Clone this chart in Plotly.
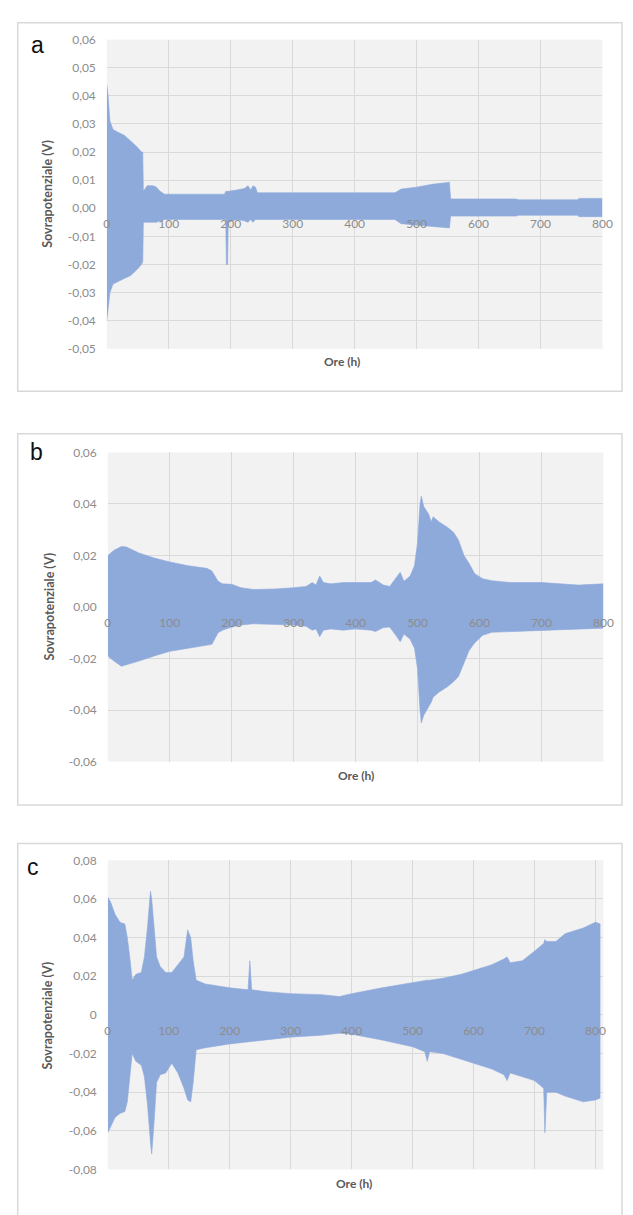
import plotly.graph_objects as go

# ---------------- data (envelope of the cycling overpotential) ----------------
# Panel a
a_x = [0, 2, 5, 10, 18, 28, 38, 48, 56, 58, 59, 62, 65, 75, 80, 86, 93, 150, 190, 192, 193, 195, 196,
       210, 222, 228, 232, 236, 240, 243, 300, 400, 465, 475, 500, 525, 553, 555, 600, 660, 665, 760, 762, 800]
a_up = [0.044, 0.040, 0.031, 0.028, 0.027, 0.026, 0.024, 0.022, 0.020, 0.020, 0.006, 0.007, 0.008, 0.008,
        0.0075, 0.006, 0.005, 0.005, 0.005, 0.006, 0.006, 0.006, 0.006,
        0.0065, 0.007, 0.008, 0.0065, 0.008, 0.0075, 0.0055, 0.0055, 0.0055, 0.0055, 0.0068, 0.0075, 0.0085,
        0.0092, 0.0033, 0.0033, 0.0033, 0.003, 0.003, 0.0035, 0.0035]
a_lo = [-0.040, -0.036, -0.030, -0.027, -0.026, -0.025, -0.024, -0.022, -0.020, -0.019, -0.005, -0.005,
        -0.005, -0.005, -0.005, -0.0045, -0.004, -0.004, -0.004, -0.004, -0.020, -0.020, -0.005,
        -0.004, -0.0045, -0.005, -0.004, -0.005, -0.004, -0.004, -0.004, -0.004, -0.004, -0.0055, -0.006,
        -0.0065, -0.007, -0.0028, -0.0028, -0.0028, -0.0025, -0.0025, -0.003, -0.003]

# Panel b
b_x = [0, 10, 22, 30, 50, 75, 100, 130, 160, 168, 178, 185, 200, 215, 235, 270, 300, 320, 330, 336, 342,
       348, 360, 380, 400, 425, 432, 445, 455, 465, 472, 478, 488, 495, 500, 504, 506, 510, 518, 522, 525,
       535, 548, 558, 566, 575, 583, 592, 605, 620, 650, 700, 730, 760, 800]
b_up = [0.020, 0.022, 0.0235, 0.0233, 0.021, 0.019, 0.0175, 0.016, 0.015, 0.014, 0.010, 0.009, 0.0088,
        0.0075, 0.0068, 0.007, 0.0075, 0.008, 0.0095, 0.0085, 0.012, 0.0095, 0.009, 0.0095, 0.0095,
        0.0095, 0.0105, 0.0085, 0.008, 0.011, 0.0135, 0.010, 0.012, 0.016, 0.025, 0.040, 0.043, 0.039,
        0.036, 0.033, 0.035, 0.033, 0.031, 0.029, 0.026, 0.020, 0.017, 0.013, 0.011, 0.0102, 0.0095,
        0.0095, 0.009, 0.0085, 0.009]
b_lo = [-0.019, -0.021, -0.023, -0.0225, -0.021, -0.019, -0.0172, -0.016, -0.015, -0.0145, -0.010,
        -0.009, -0.0078, -0.007, -0.0065, -0.0068, -0.007, -0.0075, -0.009, -0.0085, -0.0115, -0.009,
        -0.0085, -0.009, -0.0085, -0.009, -0.0095, -0.008, -0.0078, -0.011, -0.0135, -0.0105, -0.0125,
        -0.016, -0.024, -0.040, -0.045, -0.042, -0.039, -0.037, -0.035, -0.033, -0.031, -0.029, -0.027,
        -0.022, -0.017, -0.014, -0.011, -0.0098, -0.0095, -0.009, -0.0088, -0.0085, -0.0082]

# Panel c
c_x = [0, 5, 12, 20, 28, 32, 36, 40, 46, 55, 60, 65, 70, 72, 76, 80, 86, 95, 105, 115, 125, 131, 136,
       140, 145, 160, 200, 230, 233, 236, 260, 300, 350, 380, 400, 450, 500, 520, 524, 528, 550, 580,
       600, 630, 650, 655, 660, 680, 700, 715, 717, 720, 735, 750, 780, 800, 808]
c_up = [0.061, 0.058, 0.052, 0.048, 0.047, 0.040, 0.030, 0.018, 0.021, 0.022, 0.030, 0.045, 0.064, 0.060,
        0.045, 0.030, 0.025, 0.022, 0.022, 0.026, 0.030, 0.044, 0.040, 0.028, 0.018, 0.016, 0.014, 0.013,
        0.028, 0.013, 0.012, 0.011, 0.0105, 0.0095, 0.011, 0.014, 0.0168, 0.018, 0.018, 0.018, 0.019,
        0.021, 0.023, 0.026, 0.029, 0.030, 0.027, 0.028, 0.033, 0.037, 0.039, 0.038, 0.038, 0.042, 0.045,
        0.048, 0.047]
c_lo = [-0.061, -0.058, -0.053, -0.051, -0.050, -0.045, -0.032, -0.020, -0.024, -0.026, -0.032, -0.046,
        -0.066, -0.072, -0.055, -0.035, -0.031, -0.030, -0.025, -0.030, -0.038, -0.044, -0.045, -0.035,
        -0.018, -0.017, -0.015, -0.014, -0.014, -0.014, -0.013, -0.0115, -0.0105, -0.0095, -0.010, -0.013,
        -0.0165, -0.019, -0.024, -0.019, -0.020, -0.023, -0.025, -0.028, -0.031, -0.034, -0.030, -0.032,
        -0.034, -0.038, -0.061, -0.040, -0.040, -0.042, -0.045, -0.044, -0.043]

# tick labels
x_ticks = [0, 100, 200, 300, 400, 500, 600, 700, 800]
x_labels = ["0", "100", "200", "300", "400", "500", "600", "700", "800"]
a_yticks = [0.06, 0.05, 0.04, 0.03, 0.02, 0.01, 0.0, -0.01, -0.02, -0.03, -0.04, -0.05]
a_ylabels = ["0,06", "0,05", "0,04", "0,03", "0,02", "0,01", "0,00", "-0,01", "-0,02", "-0,03", "-0,04", "-0,05"]
b_yticks = [0.06, 0.04, 0.02, 0.0, -0.02, -0.04, -0.06]
b_ylabels = ["0,06", "0,04", "0,02", "0,00", "-0,02", "-0,04", "-0,06"]
c_yticks = [0.08, 0.06, 0.04, 0.02, 0.0, -0.02, -0.04, -0.06, -0.08]
c_ylabels = ["0,08", "0,06", "0,04", "0,02", "0", "-0,02", "-0,04", "-0,06", "-0,08"]

panel_letters = ["a", "b", "c"]
x_title = "Ore (h)"
y_title = "Sovrapotenziale (V)"

# ---------------- layout helpers ----------------
W, H = 633, 1215
def px(v):
    return v / W
def py(v):
    return 1 - v / H

FILL = "#8eaadb"
GRID = "#d9d9d9"
BG = "#f2f2f2"
TICKC = "#8c8c8c"
TITLEC = "#595959"
FONT = "Lato, 'Open Sans', sans-serif"

panels = [
    dict(x=a_x, up=a_up, lo=a_lo, yr=[-0.05, 0.06], yt=a_yticks, yl=a_ylabels,
         box=(106, 612, 32, 345), xr=[0, 800], border=(15, 632, 15, 388),
         letter=(35, 37), xt=(346, 358), ytl=(46, 188)),
    dict(x=b_x, up=b_up, lo=b_lo, yr=[-0.06, 0.06], yt=b_yticks, yl=b_ylabels,
         box=(107, 613, 450, 763), xr=[0, 800], border=(15, 632, 431, 807),
         letter=(34, 450), xt=(360, 777), ytl=(47, 606)),
    dict(x=c_x, up=c_up, lo=c_lo, yr=[-0.08, 0.08], yt=c_yticks, yl=c_ylabels,
         box=(107, 613, 863, 1176), xr=[0, 813], border=(15, 632, 846, 1230),
         letter=(31, 870), xt=(358, 1190), ytl=(45, 1020)),
]

fig = go.Figure()
shapes = []
annotations = []

for i, p in enumerate(panels, start=1):
    sx = "" if i == 1 else str(i)
    xa, ya = "x" + sx, "y" + sx
    fig.add_trace(go.Scatter(x=p["x"], y=p["up"], mode="lines", line=dict(color=FILL, width=0.6),
                             xaxis=xa, yaxis=ya, showlegend=False, hoverinfo="skip"))
    fig.add_trace(go.Scatter(x=p["x"], y=p["lo"], mode="lines", line=dict(color=FILL, width=0.6),
                             fill="tonexty", fillcolor=FILL,
                             xaxis=xa, yaxis=ya, showlegend=False, hoverinfo="skip"))
    l, r, t, b = p["box"]
    y0, y1 = p["yr"]
    zero_pix = t + (y1 - 0) / (y1 - y0) * (b - t)
    fig.layout["xaxis" + sx] = dict(
        domain=[px(l), px(r)], range=p["xr"], anchor="free", position=py(zero_pix),
        tickvals=x_ticks, ticktext=x_labels, showgrid=True, gridcolor=GRID, gridwidth=1,
        zeroline=False, showline=False, ticks="", ticklabelstandoff=7,
        tickfont=dict(family=FONT, size=12, color=TICKC), fixedrange=True)
    fig.layout["yaxis" + sx] = dict(
        domain=[py(b), py(t)], range=p["yr"], anchor=xa,
        tickvals=p["yt"], ticktext=p["yl"], showgrid=True, gridcolor=GRID, gridwidth=1,
        zeroline=False, showline=False, ticks="", ticklabelstandoff=10,
        tickfont=dict(family=FONT, size=12, color=TICKC), fixedrange=True)
    bl, br, bt, bb = p["border"]
    shapes.append(dict(type="rect", xref="paper", yref="paper", x0=px(bl), x1=px(br),
                       y0=py(bb), y1=py(bt), line=dict(color="#d9d9d9", width=1.5), layer="below"))
    annotations.append(dict(text=panel_letters[i - 1], xref="paper", yref="paper",
                            x=px(p["letter"][0]), y=py(p["letter"][1]), xanchor="center", yanchor="middle",
                            showarrow=False, font=dict(family="Liberation Sans, Arial", size=23, color="#111111")))
    annotations.append(dict(text="<b>" + x_title + "</b>", xref="paper", yref="paper",
                            x=px(p["xt"][0]), y=py(p["xt"][1]), xanchor="center", yanchor="middle",
                            showarrow=False, font=dict(family=FONT, size=12, color=TITLEC)))
    annotations.append(dict(text="<b>" + y_title + "</b>", xref="paper", yref="paper",
                            x=px(p["ytl"][0]), y=py(p["ytl"][1]), xanchor="center", yanchor="middle",
                            textangle=-90, showarrow=False, font=dict(family=FONT, size=12.5, color=TITLEC)))

fig.update_layout(
    width=W, height=H, margin=dict(l=0, r=0, t=0, b=0),
    paper_bgcolor="white", plot_bgcolor=BG,
    shapes=shapes, annotations=annotations, showlegend=False,
)

fig.write_html("out.html")
